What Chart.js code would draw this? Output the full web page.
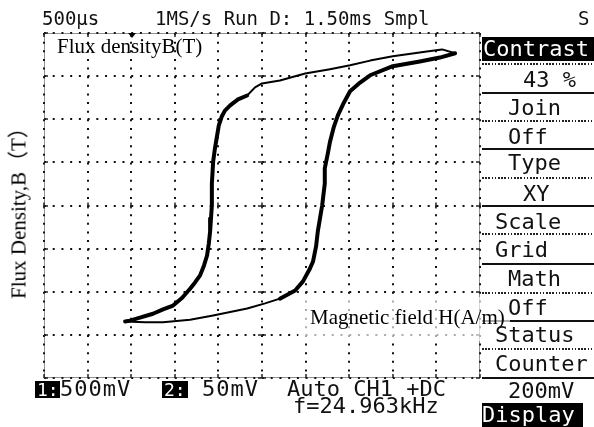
<!DOCTYPE html>
<html>
<head>
<meta charset="utf-8">
<script src="https://cdn.jsdelivr.net/npm/chart.js@4.4.1/dist/chart.umd.min.js"></script>
<style>
  html, body { margin: 0; padding: 0; background: #fff; }
  #scope { position: relative; width: 594px; height: 427px; overflow: hidden; }
  #hyst { position: absolute; left: 0; top: 0; }
  .mono { position: absolute; z-index: 2; font-family: "DejaVu Sans Mono", monospace; color: #111; white-space: pre; line-height: 1; }
  .top { font-size: 19px; top: 9px; }
  .menu { font-size: 22px; }
  .bottom { font-size: 22px; }
  .inv { position: absolute; background: #000; }
  .white { color: #fff; }
  .serif { position: absolute; font-family: "Liberation Serif", "Noto Sans CJK SC", serif; color: #000; white-space: pre; line-height: 1; font-size: 21px; }
  .solid { position: absolute; left: 482px; width: 112px; height: 1.5px; background: #111; }
  .dots { position: absolute; left: 482px; width: 112px; height: 1.6px; background: repeating-linear-gradient(to right, #222 0 1.6px, transparent 1.6px 3.2px); }
  .trig { position: absolute; left: 128px; top: 33px; width: 0; height: 0; border-left: 4px solid transparent; border-right: 4px solid transparent; border-top: 5px solid #000; }
  #hlabel { position: absolute; z-index: 1; left: 298px; top: 297px; width: 212px; height: 44px; background: rgba(255,255,255,0.65); }
</style>
</head>
<body>
<div id="scope">
  <canvas id="hyst" width="594" height="427"></canvas>

  <!-- header line -->
  <div class="mono top" style="left:42px">500µs</div>
  <div class="mono top" style="left:155px">1MS/s Run D: 1.50ms Smpl</div>
  <div class="mono top" style="left:578px">S</div>
  <div class="trig"></div>

  <!-- side menu -->
  <div class="inv" style="left:482px; top:37px; width:112px; height:24px"></div>
  <div class="mono menu white" style="left:483px; top:38px">Contrast</div>
  <div class="dots" style="top:63px"></div>
  <div class="mono menu" style="left:523px; top:69px">43 %</div>
  <div class="solid" style="top:92px"></div>
  <div class="mono menu" style="left:508px; top:97px">Join</div>
  <div class="dots" style="top:120px"></div>
  <div class="mono menu" style="left:508px; top:126px">Off</div>
  <div class="solid" style="top:148px"></div>
  <div class="mono menu" style="left:508px; top:152px">Type</div>
  <div class="dots" style="top:177px"></div>
  <div class="mono menu" style="left:523px; top:183px">XY</div>
  <div class="solid" style="top:205px"></div>
  <div class="mono menu" style="left:495px; top:211px">Scale</div>
  <div class="dots" style="top:233px"></div>
  <div class="mono menu" style="left:495px; top:239px">Grid</div>
  <div class="solid" style="top:263px"></div>
  <div class="mono menu" style="left:508px; top:268px">Math</div>
  <div class="dots" style="top:292px"></div>
  <div class="mono menu" style="left:508px; top:297px">Off</div>
  <div class="solid" style="top:320px"></div>
  <div class="mono menu" style="left:495px; top:324px">Status</div>
  <div class="dots" style="top:348px"></div>
  <div class="mono menu" style="left:495px; top:353px">Counter</div>
  <div class="solid" style="top:377px"></div>
  <div class="mono menu" style="left:508px; top:380px">200mV</div>
  <div class="inv" style="left:482px; top:403px; width:101px; height:24px"></div>
  <div class="mono menu white" style="left:482px; top:404px">Display</div>

  <!-- channel line -->
  <div class="inv" style="left:35px; top:381px; width:25px; height:17px"></div>
  <div class="mono white" style="left:37px; top:381px; font-size:18px; line-height:17px">1:</div>
  <div class="mono bottom" style="left:60px; top:378px; letter-spacing:1px">500mV</div>
  <div class="inv" style="left:162px; top:381px; width:26px; height:17px"></div>
  <div class="mono white" style="left:164px; top:381px; font-size:18px; line-height:17px">2:</div>
  <div class="mono bottom" style="left:202px; top:378px; letter-spacing:1px">50mV</div>
  <div class="mono bottom" style="left:287px; top:378px">Auto CH1 +DC</div>
  <div class="mono bottom" style="left:293px; top:395px">f=24.963kHz</div>

  <!-- annotations -->
  <div class="serif" style="left:57px; top:36px">Flux densityB(T)</div>
  <div id="hlabel"><div class="serif" style="left:12px; top:10px">Magnetic field H(A/m)</div></div>
  <div class="serif" style="left:19px; top:208px; transform: translate(-50%, -50%) rotate(-90deg)">Flux Density,B（T）</div>
</div>

<script>
// hysteresis loop, in divisions (x: H, y: B)
// rising branch: thin part along the bottom, then the dense part up to the tip
const risingThinH = [-3.14, -2.68, -2.27, -1.65, -1.12, -0.34, 0.07, 0.41];
const risingThinB = [-2.69, -2.71, -2.71, -2.65, -2.55, -2.39, -2.27, -2.16];
const risingThickH = [0.41, 0.76, 0.94, 1.10, 1.17, 1.24, 1.28, 1.33, 1.38, 1.44, 1.44, 1.51, 1.56, 1.65, 1.74, 1.88, 2.02, 2.25, 2.48, 3.00, 3.62, 4.08, 4.43];
const risingThickB = [-2.16, -1.97, -1.76, -1.46, -1.30, -0.95, -0.60, -0.30, 0, 0.51, 0.86, 1.21, 1.48, 1.83, 2.09, 2.39, 2.65, 2.85, 3.02, 3.23, 3.34, 3.43, 3.53];

// falling branch: thin part along the top, then the dense part down to the tip
const fallingThinH = [4.43, 4.13, 3.78, 3.00, 2.48, 2.02, 1.56, 0.99, 0.41, 0.00, -0.16, -0.34];
const fallingThinB = [3.53, 3.62, 3.57, 3.46, 3.36, 3.25, 3.16, 3.06, 2.90, 2.83, 2.74, 2.55];
const fallingThickH = [-0.34, -0.55, -0.73, -0.85, -0.92, -0.99, -1.03, -1.08, -1.12, -1.15, -1.15, -1.17, -1.19, -1.22, -1.26, -1.33, -1.42, -1.54, -1.65, -1.83, -2.04, -2.27, -2.50, -2.80, -3.03, -3.14];
const fallingThickB = [2.55, 2.46, 2.32, 2.20, 2.07, 1.86, 1.62, 1.32, 1.02, 0.51, 0, -0.30, -0.60, -0.88, -1.16, -1.39, -1.62, -1.79, -1.93, -2.14, -2.32, -2.41, -2.51, -2.60, -2.67, -2.69];

// graticule: 10 x 8 divisions
const divX = [-5, 5];
const divY = [-4, 4];

function toPoints(hs, bs) {
    return hs.map((h, i) => ({ x: h, y: bs[i] }));
}

function trace(hs, bs, width) {
    return {
        data: toPoints(hs, bs),
        showLine: true,
        borderColor: '#000',
        borderWidth: width,
        borderJoinStyle: 'round',
        borderCapStyle: 'round',
        pointRadius: 0,
        tension: 0
    };
}

// dotted border plus the little tick marks of the scope screen
const scopeFrame = {
    id: 'scopeFrame',
    beforeDatasetsDraw(chart) {
        const { ctx, chartArea: a, scales: { x, y } } = chart;
        ctx.save();
        ctx.strokeStyle = '#222';
        ctx.lineWidth = 1;
        ctx.setLineDash([1, 1]);
        ctx.strokeRect(a.left + 0.5, a.top + 0.5, a.right - a.left - 1, a.bottom - a.top - 1);
        ctx.setLineDash([]);
        ctx.lineWidth = 1.5;
        ctx.beginPath();
        const cy = y.getPixelForValue(0);
        const cx = x.getPixelForValue(0);
        x.ticks.forEach(t => {
            const px = Math.round(x.getPixelForValue(t.value));
            ctx.moveTo(px, a.top); ctx.lineTo(px, a.top + 4);
            ctx.moveTo(px, a.bottom); ctx.lineTo(px, a.bottom - 4);
            ctx.moveTo(px, cy - 3); ctx.lineTo(px, cy + 3);
        });
        y.ticks.forEach(t => {
            const py = Math.round(y.getPixelForValue(t.value));
            ctx.moveTo(a.left, py); ctx.lineTo(a.left + 4, py);
            ctx.moveTo(a.right, py); ctx.lineTo(a.right - 4, py);
            ctx.moveTo(cx - 4, py); ctx.lineTo(cx + 4, py);
        });
        ctx.stroke();
        ctx.restore();
    }
};

const ctx = document.getElementById('hyst').getContext('2d');
new Chart(ctx, {
    type: 'scatter',
    data: {
        datasets: [
            trace(risingThinH, risingThinB, 2),
            trace(fallingThinH, fallingThinB, 2),
            trace(risingThickH, risingThickB, 4),
            trace(fallingThickH, fallingThickB, 4)
        ]
    },
    options: {
        responsive: false,
        animation: false,
        layout: { padding: { left: 44, top: 33, right: 114, bottom: 49 } },
        plugins: {
            legend: { display: false },
            tooltip: { enabled: false }
        },
        scales: {
            x: {
                type: 'linear',
                min: divX[0],
                max: divX[1],
                ticks: { display: false, stepSize: 1 },
                grid: { color: '#111', lineWidth: 2, drawTicks: false },
                border: { display: false, dash: [2, 6.625] }
            },
            y: {
                type: 'linear',
                min: divY[0],
                max: divY[1],
                ticks: { display: false, stepSize: 1 },
                grid: { color: '#111', lineWidth: 2, drawTicks: false },
                border: { display: false, dash: [2, 6.72] }
            }
        }
    },
    plugins: [scopeFrame]
});
</script>
</body>
</html>
